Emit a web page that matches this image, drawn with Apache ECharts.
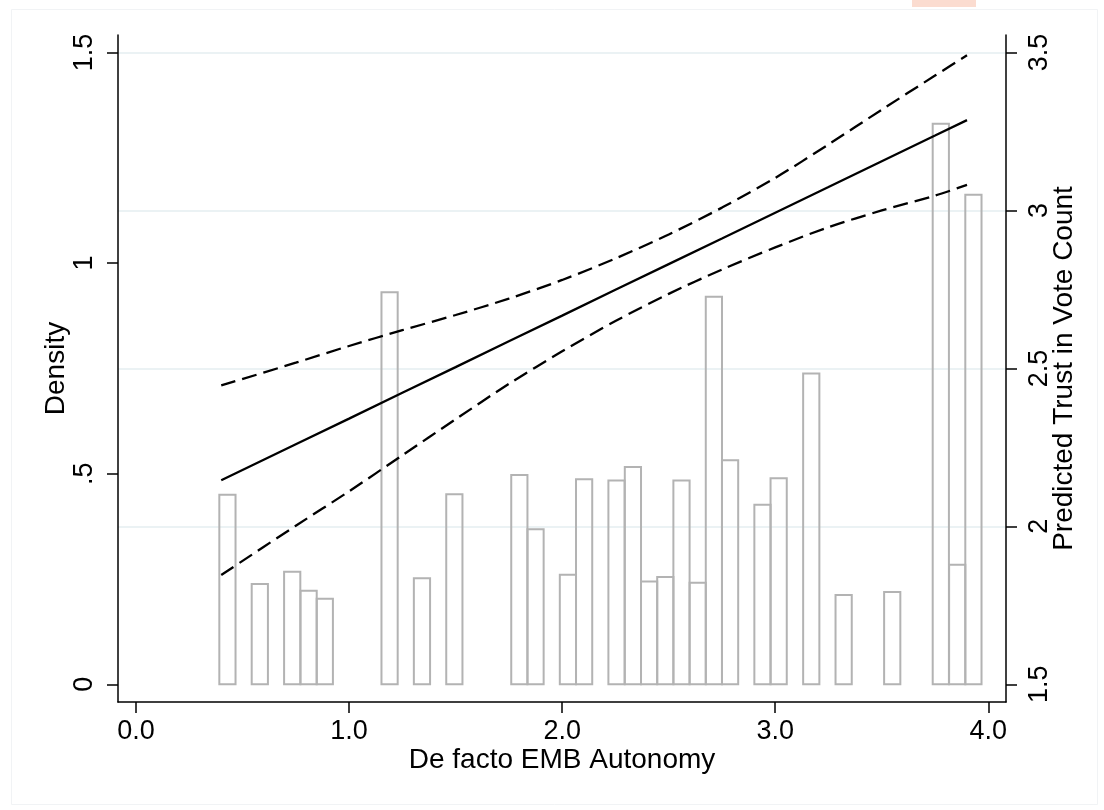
<!DOCTYPE html>
<html>
<head>
<meta charset="utf-8">
<script src="https://cdn.jsdelivr.net/npm/echarts@6/dist/echarts.min.js"></script>
<style>
html,body{margin:0;padding:0;background:#fff;}
#chart{width:1104px;height:810px;}
</style>
</head>
<body>
<div id="chart"></div>
<script>
// Histogram (density) of De facto EMB Autonomy
const binLower = [0.391, 0.543, 0.695, 0.772, 0.848, 1.152, 1.304, 1.456, 1.761, 1.837,
  1.989, 2.065, 2.217, 2.294, 2.370, 2.446, 2.522, 2.598, 2.674, 2.750,
  2.902, 2.978, 3.131, 3.283, 3.511, 3.739, 3.816, 3.892];
const binWidth = 0.0761;
const density = [0.450, 0.238, 0.267, 0.222, 0.203, 0.931, 0.252, 0.451, 0.497, 0.368,
  0.260, 0.487, 0.484, 0.516, 0.244, 0.255, 0.484, 0.241, 0.920, 0.532,
  0.426, 0.489, 0.738, 0.212, 0.219, 1.331, 0.284, 1.162];

// Predicted trust in vote count with 95% CI
const fitX =    [0.4,   0.75,  1.0,   1.25,  1.5,   1.75,  2.0,   2.25,  2.5,   2.75,  3.0,   3.25,  3.5,   3.75,  3.9];
const fitY =    [2.146, 2.260, 2.341, 2.423, 2.504, 2.586, 2.667, 2.749, 2.830, 2.911, 2.993, 3.074, 3.156, 3.237, 3.286];
const ciUpper = [2.446, 2.518, 2.571, 2.621, 2.669, 2.721, 2.780, 2.848, 2.924, 3.009, 3.103, 3.209, 3.319, 3.427, 3.491];
const ciLower = [1.846, 2.002, 2.111, 2.225, 2.339, 2.451, 2.554, 2.650, 2.736, 2.813, 2.883, 2.947, 3.000, 3.047, 3.081];

// Axis ticks
const xTicks = [0, 1, 2, 3, 4];
const xTickLabels = ['0.0', '1.0', '2.0', '3.0', '4.0'];
const leftTicks = [0, 0.5, 1, 1.5];
const leftTickLabels = ['0', '.5', '1', '1.5'];
const rightTicks = [1.5, 2, 2.5, 3, 3.5];
const rightTickLabels = ['1.5', '2', '2.5', '3', '3.5'];
const gridLineValues = [2, 2.5, 3, 3.5];

const FONT = "'Liberation Sans', Arial, Helvetica, sans-serif";
const chart = echarts.init(document.getElementById('chart'), null, {renderer: 'canvas'});

const pairs = (xs, ys) => xs.map((x, i) => [x, ys[i]]);
const histData = binLower.map((b, i) => [b, b + binWidth, density[i]]);

const axisLineStyle = {color: '#000', width: 1.5};

const option = {
  animation: false,
  backgroundColor: '#fff',
  textStyle: {fontFamily: FONT},
  graphic: [
    {type: 'rect', left: 9, top: 7, shape: {width: 1086, height: 795},
     style: {fill: 'none', stroke: '#f1f3f5', lineWidth: 1}, silent: true, z: -10},
    {type: 'rect', left: 912, top: 0, shape: {width: 64, height: 7},
     style: {fill: '#fbdcd0'}, silent: true, z: -10}
  ],
  grid: {left: 118, right: 98, top: 35, bottom: 108, containLabel: false},
  xAxis: {
    type: 'value', min: -0.0845, max: 4.083,
    name: 'De facto EMB Autonomy', nameLocation: 'middle', nameGap: 44, nameMoveOverlap: false,
    nameTextStyle: {fontSize: 28, color: '#000', fontFamily: FONT},
    axisLine: {show: true, onZero: false, lineStyle: axisLineStyle},
    axisTick: {show: true, length: 11, lineStyle: axisLineStyle, customValues: xTicks},
    axisLabel: {show: true, fontSize: 27, color: '#000', margin: 16, fontFamily: FONT,
      customValues: xTicks,
      formatter: v => xTickLabels[xTicks.indexOf(v)] ?? ''},
    splitLine: {show: false}
  },
  yAxis: [
    {
      type: 'value', position: 'left', min: -0.042, max: 1.5415,
      name: 'Density', nameLocation: 'middle', nameGap: 48, nameRotate: 90, nameMoveOverlap: false,
      nameTextStyle: {fontSize: 28, color: '#000', fontFamily: FONT},
      axisLine: {show: true, onZero: false, lineStyle: axisLineStyle},
      axisTick: {show: true, length: 11, lineStyle: axisLineStyle, customValues: leftTicks},
      axisLabel: {show: true, fontSize: 27, color: '#000', margin: 20, rotate: 90, fontFamily: FONT,
        customValues: leftTicks,
        formatter: v => leftTickLabels[leftTicks.indexOf(v)] ?? ''},
      splitLine: {show: false}
    },
    {
      type: 'value', position: 'right', min: 1.444, max: 3.5554,
      name: 'Predicted Trust in Vote Count', nameLocation: 'middle', nameGap: 44, nameRotate: 90, nameMoveOverlap: false,
      nameTextStyle: {fontSize: 28, color: '#000', fontFamily: FONT},
      axisLine: {show: true, onZero: false, lineStyle: axisLineStyle},
      axisTick: {show: true, length: 11, lineStyle: axisLineStyle, customValues: rightTicks},
      axisLabel: {show: true, fontSize: 27, color: '#000', margin: 20, rotate: 90, fontFamily: FONT,
        customValues: rightTicks,
        formatter: v => rightTickLabels[rightTicks.indexOf(v)] ?? ''},
      splitLine: {show: false}
    }
  ],
  series: [
    {
      name: 'grid', type: 'line', yAxisIndex: 1, data: [], z: 0, silent: true,
      markLine: {
        silent: true, symbol: 'none', z: 0, animation: false,
        label: {show: false},
        lineStyle: {color: '#e5eef1', width: 1.5, type: 'solid'},
        data: gridLineValues.map(v => ({yAxis: v}))
      }
    },
    {
      name: 'Density', type: 'custom', yAxisIndex: 0, z: 1,
      data: histData,
      encode: {x: [0, 1], y: 2},
      renderItem: function (params, api) {
        const p0 = api.coord([api.value(0), api.value(2)]);
        const p1 = api.coord([api.value(1), 0]);
        return {
          type: 'rect',
          shape: {x: p0[0], y: p0[1], width: p1[0] - p0[0], height: p1[1] - p0[1]},
          style: {fill: 'none', stroke: '#b3b3b3', lineWidth: 2}
        };
      }
    },
    {
      name: 'Upper CI', type: 'line', yAxisIndex: 1, z: 3, showSymbol: false, symbol: 'none',
      data: pairs(fitX, ciUpper), smooth: 0.3,
      lineStyle: {color: '#000', width: 2.3, type: [15, 7]}
    },
    {
      name: 'Fit', type: 'line', yAxisIndex: 1, z: 3, showSymbol: false, symbol: 'none',
      data: pairs(fitX, fitY),
      lineStyle: {color: '#000', width: 2.3, type: 'solid'}
    },
    {
      name: 'Lower CI', type: 'line', yAxisIndex: 1, z: 3, showSymbol: false, symbol: 'none',
      data: pairs(fitX, ciLower), smooth: 0.3,
      lineStyle: {color: '#000', width: 2.3, type: [15, 7]}
    }
  ]
};
chart.setOption(option);
</script>
</body>
</html>
